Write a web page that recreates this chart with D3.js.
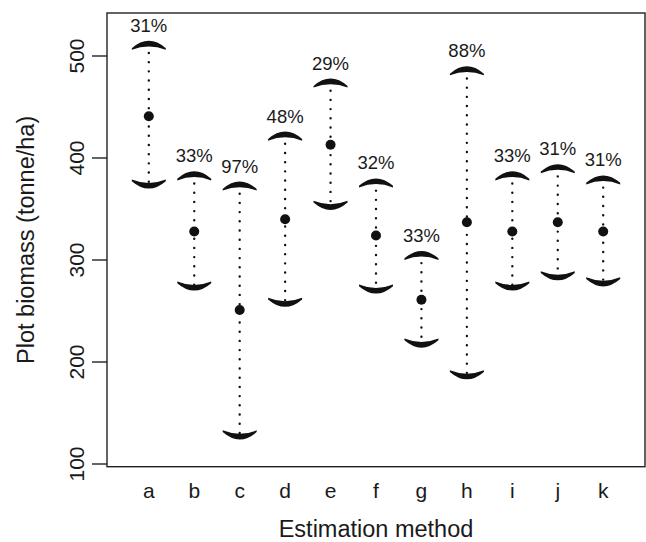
<!DOCTYPE html>
<html><head><meta charset="utf-8">
<script src="https://cdn.jsdelivr.net/npm/d3@7"></script>
<style>html,body{margin:0;padding:0;background:#fff;} svg{display:block;}</style>
</head><body>
<script>
const categories = ["a","b","c","d","e","f","g","h","i","j","k"];
const means  = [441, 328, 251, 340, 413, 324, 261, 337, 328, 337, 328];
const upper  = [512, 384, 374, 423, 475, 377, 306, 487, 384, 391, 380];
const lower  = [373, 273, 127, 257, 352, 270, 217, 186, 273, 283, 277];
const pctLabels = [31, 33, 97, 48, 29, 32, 33, 88, 33, 31, 31];
const yTicks = [100, 200, 300, 400, 500];

const W = 646, H = 542;
const box = {left: 107, right: 645, top: 13, bottom: 466.7};
const font = "'Liberation Sans', Arial, Helvetica, sans-serif";

const svg = d3.select("body").append("svg").attr("width", W).attr("height", H);

const x = d3.scalePoint().domain(categories).range([box.left, box.right]).padding(0.92);
const y = d3.scaleLinear().domain([100, 500]).range([464, 56]);

const data = categories.map((c, i) => ({c, m: means[i], u: upper[i], l: lower[i], p: pctLabels[i]}));

// dotted lines
svg.append("g").selectAll("line").data(data).join("line")
  .attr("x1", d => x(d.c)).attr("x2", d => x(d.c))
  .attr("y1", d => y(d.u)).attr("y2", d => y(d.l))
  .attr("stroke", "#111").attr("stroke-width", 2.4)
  .attr("stroke-linecap", "round").attr("stroke-dasharray", "0 9.2");

// crescent caps
const hw = 17;
function upperCap(cx, cy) {
  const endY = cy + 5.4;
  const oc = (4 * (cy - 2.5) - 2 * endY) / 2;
  const ic = (4 * (cy + 2.3) - 2 * endY) / 2;
  return `M${cx - hw},${endY - 1.0} Q${cx},${oc} ${cx + hw},${endY - 1.0} L${cx + hw},${endY + 0.7} Q${cx},${ic} ${cx - hw},${endY + 0.7} Z`;
}
function lowerCap(cx, cy) {
  const endY = cy - 5.4;
  const oc = (4 * (cy + 2.5) - 2 * endY) / 2;
  const ic = (4 * (cy - 2.3) - 2 * endY) / 2;
  return `M${cx - hw},${endY + 1.0} Q${cx},${oc} ${cx + hw},${endY + 1.0} L${cx + hw},${endY - 0.7} Q${cx},${ic} ${cx - hw},${endY - 0.7} Z`;
}
svg.append("g").selectAll("path.up").data(data).join("path").attr("class", "up")
  .attr("d", d => upperCap(x(d.c), y(d.u))).attr("fill", "#111");
svg.append("g").selectAll("path.lo").data(data).join("path").attr("class", "lo")
  .attr("d", d => lowerCap(x(d.c), y(d.l))).attr("fill", "#111");

// mean points
svg.append("g").selectAll("circle").data(data).join("circle")
  .attr("cx", d => x(d.c)).attr("cy", d => y(d.m)).attr("r", 5).attr("fill", "#111");

// percentage labels
svg.append("g").selectAll("text").data(data).join("text")
  .attr("x", d => x(d.c)).attr("y", d => y(d.u) - 12)
  .attr("text-anchor", "middle").attr("font-family", font).attr("font-size", 18.5)
  .attr("fill", "#1a1a1a").text(d => d.p + "%");

// box
svg.append("rect").attr("x", box.left).attr("y", box.top)
  .attr("width", box.right - box.left).attr("height", box.bottom - box.top)
  .attr("fill", "none").attr("stroke", "#222").attr("stroke-width", 1.4);

// y axis ticks
const yg = svg.append("g");
yg.selectAll("line").data(yTicks).join("line")
  .attr("x1", 92).attr("x2", box.left).attr("y1", d => y(d)).attr("y2", d => y(d))
  .attr("stroke", "#222").attr("stroke-width", 1.4);
yg.selectAll("text").data(yTicks).join("text")
  .attr("transform", d => `translate(83.5,${y(d)}) rotate(-90)`)
  .attr("text-anchor", "middle").attr("font-family", font).attr("font-size", 21)
  .attr("fill", "#1a1a1a").text(d => d);

// x labels
svg.append("g").selectAll("text").data(categories).join("text")
  .attr("x", d => x(d)).attr("y", 498)
  .attr("text-anchor", "middle").attr("font-family", font).attr("font-size", 21)
  .attr("fill", "#1a1a1a").text(d => d);

// axis titles
svg.append("text").attr("x", (box.left + box.right) / 2).attr("y", 537)
  .attr("text-anchor", "middle").attr("font-family", font).attr("font-size", 23.5)
  .attr("fill", "#1a1a1a").text("Estimation method");
svg.append("text").attr("transform", `translate(34,${(box.top + box.bottom) / 2}) rotate(-90)`)
  .attr("text-anchor", "middle").attr("font-family", font).attr("font-size", 23.5)
  .attr("fill", "#1a1a1a").text("Plot biomass (tonne/ha)");
</script>
</body></html>
